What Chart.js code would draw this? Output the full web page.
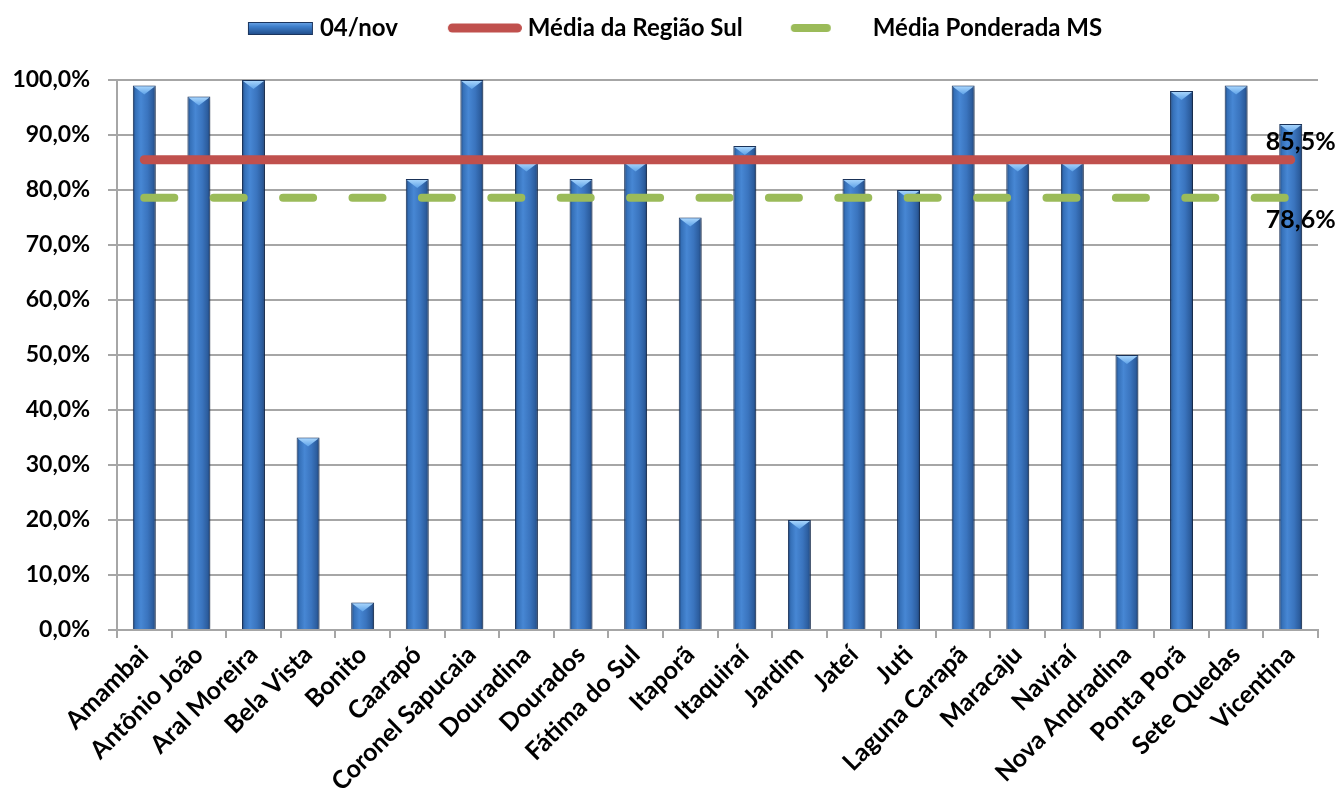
<!DOCTYPE html>
<html>
<head>
<meta charset="utf-8">
<script src="https://cdn.jsdelivr.net/npm/chart.js@4.4.1/dist/chart.umd.min.js"></script>
<style>
  html, body { margin: 0; padding: 0; background: #ffffff; }
  #wrap { width: 1341px; height: 795px; }
</style>
</head>
<body>
<div id="wrap"><canvas id="c" width="1341" height="795"></canvas></div>
<script>
// Municípios da Região Sul
const municipios = [
  'Amambai', 'Antônio João', 'Aral Moreira', 'Bela Vista', 'Bonito', 'Caarapó',
  'Coronel Sapucaia', 'Douradina', 'Dourados', 'Fátima do Sul', 'Itaporã', 'Itaquiraí',
  'Jardim', 'Jateí', 'Juti', 'Laguna Carapã', 'Maracaju', 'Naviraí', 'Nova Andradina',
  'Ponta Porã', 'Sete Quedas', 'Vicentina'
];

// Cobertura (%) em 04/nov
const cobertura = [99, 97, 100, 35, 5, 82, 100, 85, 82, 85, 75, 88, 20, 82, 80, 99, 85, 85, 50, 98, 99, 92];

// Médias de referência (%)
const mediaRegiaoSul = 85.5;
const mediaPonderadaMS = 78.6;

const serieNomes = ['04/nov', 'Média da Região Sul', 'Média Ponderada MS'];

const yMin = 0, yMax = 100, yStep = 10;

const FONT = 'Lato, "Open Sans", sans-serif';
const fmtPct = v => v.toFixed(1).replace('.', ',') + '%';

// Legend glyphs drawn into small canvases used as point styles
const BOX_W = 108;            // legend box width
const GLYPH_W = 120, GLYPH_H = 24;
function glyph(draw) {
  const cv = document.createElement('canvas');
  cv.width = GLYPH_W; cv.height = GLYPH_H;
  draw(cv.getContext('2d'));
  return cv;
}
const glyphBar = glyph(g => {
  const x0 = 54, x1 = 119, y0 = 6, y1 = 19;
  const gr = g.createLinearGradient(0, y0, 0, y1);
  gr.addColorStop(0, '#6fa8e8');
  gr.addColorStop(0.35, '#3f7fcb');
  gr.addColorStop(1, '#1f4a86');
  g.fillStyle = gr;
  g.fillRect(x0, y0, x1 - x0, y1 - y0);
  g.strokeStyle = '#1b355e';
  g.lineWidth = 1;
  g.strokeRect(x0 + 0.5, y0 + 0.5, x1 - x0 - 1, y1 - y0 - 1);
});
const glyphRed = glyph(g => {
  g.strokeStyle = '#c0504d'; g.lineWidth = 9; g.lineCap = 'round';
  g.beginPath(); g.moveTo(50.5, 12); g.lineTo(115.5, 12); g.stroke();
});
const glyphGreen = glyph(g => {
  g.strokeStyle = '#9bbb59'; g.lineWidth = 8; g.lineCap = 'round';
  g.beginPath(); g.moveTo(48, 12); g.lineTo(80, 12); g.stroke();
});
const glyphs = [glyphBar, glyphRed, glyphGreen];

// Cylindrical shading across each bar's width
function barFill(ctx) {
  const chart = ctx.chart;
  const xs = chart.scales.x;
  if (!chart.chartArea || !xs || ctx.dataIndex === undefined) return '#3a74be';
  const cx = xs.getPixelForValue(ctx.dataIndex);
  const w = (xs.width / municipios.length) * 0.42;
  const gr = chart.ctx.createLinearGradient(cx - w / 2, 0, cx + w / 2, 0);
  gr.addColorStop(0, '#1d3f70');
  gr.addColorStop(0.12, '#3570b8');
  gr.addColorStop(0.35, '#4787d4');
  gr.addColorStop(0.65, '#3a74be');
  gr.addColorStop(0.88, '#2c5d9e');
  gr.addColorStop(1, '#1d3f70');
  return gr;
}

// Shadow under the bars and the bevelled top on each bar
const barDecor = {
  id: 'barDecor',
  beforeDatasetDraw(chart, args) {
    if (args.index !== 0) return;
    const c = chart.ctx;
    c.save();
    c.shadowColor = 'rgba(0,0,0,0.28)';
    c.shadowBlur = 5;
    c.shadowOffsetX = 2;
    c.shadowOffsetY = 1;
  },
  afterDatasetDraw(chart, args) {
    if (args.index !== 0) return;
    const c = chart.ctx;
    c.restore();
    c.save();
    args.meta.data.forEach(el => {
      const w = el.width, x = el.x, y = el.y + 1;
      const h = Math.min(8, Math.max(0, el.base - el.y - 1));
      const gr = c.createLinearGradient(0, y, 0, y + h);
      gr.addColorStop(0, '#a6d4fc');
      gr.addColorStop(1, '#5ea2e8');
      c.fillStyle = gr;
      c.beginPath();
      c.moveTo(x - w / 2 + 1, y);
      c.lineTo(x + w / 2 - 1, y);
      c.lineTo(x, y + h);
      c.closePath();
      c.fill();
    });
    c.restore();
  }
};

// Value labels at the right end of the average lines
const avgLabels = {
  id: 'avgLabels',
  afterDatasetsDraw(chart) {
    const c = chart.ctx;
    c.save();
    c.font = 'bold 25px ' + FONT;
    c.fillStyle = '#000000';
    c.textAlign = 'center';
    c.textBaseline = 'middle';
    [1, 2].forEach(di => {
      const meta = chart.getDatasetMeta(di);
      const pts = meta.data;
      const last = pts[pts.length - 1];
      const val = chart.data.datasets[di].data[pts.length - 1];
      const dy = di === 1 ? -18 : 22;
      c.fillText(fmtPct(val), last.x + 10, last.y + dy);
    });
    c.restore();
  }
};

// Extra room between the legend and the plot; legend row nudged left
const legendSpace = {
  id: 'legendSpace',
  afterInit(chart) {
    const lg = chart.legend;
    if (!lg || lg._spaced) return;
    const fit = lg.fit.bind(lg);
    lg.fit = function () { fit(); this.height = 74; };
    lg._spaced = true;
  },
  afterLayout(chart) {
    const lg = chart.legend;
    if (!lg) return;
    lg.left -= 8;
    lg.right -= 8;
  }
};

const ctx = document.getElementById('c').getContext('2d');
new Chart(ctx, {
  type: 'bar',
  data: {
    labels: municipios,
    datasets: [
      {
        type: 'bar',
        label: serieNomes[0],
        data: cobertura,
        backgroundColor: barFill,
        borderColor: '#1b355e',
        borderWidth: 1,
        barPercentage: 0.42,
        categoryPercentage: 1.0,
        order: 3
      },
      {
        type: 'line',
        label: serieNomes[1],
        data: municipios.map(() => mediaRegiaoSul),
        borderColor: '#c0504d',
        backgroundColor: '#c0504d',
        borderWidth: 9,
        borderCapStyle: 'round',
        pointRadius: 0,
        fill: false,
        order: 1
      },
      {
        type: 'line',
        label: serieNomes[2],
        data: municipios.map(() => mediaPonderadaMS),
        borderColor: '#9bbb59',
        backgroundColor: '#9bbb59',
        borderWidth: 8,
        borderCapStyle: 'round',
        borderDash: [30, 39.4],
        pointRadius: 0,
        fill: false,
        order: 2
      }
    ]
  },
  options: {
    responsive: false,
    animation: false,
    devicePixelRatio: 1,
    layout: { padding: { left: 0, right: 23, top: 6, bottom: 0 } },
    plugins: {
      tooltip: { enabled: false },
      legend: {
        position: 'top',
        align: 'center',
        labels: {
          usePointStyle: true,
          pointStyleWidth: BOX_W,
          padding: 10,
          color: '#000000',
          font: { family: FONT, size: 24, weight: 'bold' },
          generateLabels(chart) {
            return chart.data.datasets.map((ds, i) => ({
              text: ds.label,
              pointStyle: glyphs[i],
              fillStyle: 'transparent',
              strokeStyle: 'transparent',
              lineWidth: 0,
              fontColor: '#000000',
              datasetIndex: i,
              hidden: false
            }));
          }
        }
      }
    },
    scales: {
      x: {
        offset: true,
        grid: {
          offset: true,
          drawOnChartArea: false,
          drawTicks: true,
          tickLength: 8,
          color: '#a6a6a6',
          lineWidth: 2
        },
        border: { color: '#a6a6a6', width: 2 },
        ticks: {
          autoSkip: false,
          maxRotation: 45,
          minRotation: 45,
          padding: 2,
          color: '#000000',
          font: { family: FONT, size: 25, weight: 'bold' }
        },
        afterFit(scale) { scale.height = 165; }
      },
      y: {
        min: yMin,
        max: yMax,
        ticks: {
          stepSize: yStep,
          padding: 18,
          color: '#000000',
          font: { family: FONT, size: 23, weight: 'bold' },
          callback: v => fmtPct(v)
        },
        grid: {
          color: '#a6a6a6',
          lineWidth: 2,
          tickLength: 9
        },
        border: { color: '#a6a6a6', width: 2 },
        afterFit(scale) { scale.width = 117; }
      }
    }
  },
  plugins: [barDecor, avgLabels, legendSpace]
});
</script>
</body>
</html>
